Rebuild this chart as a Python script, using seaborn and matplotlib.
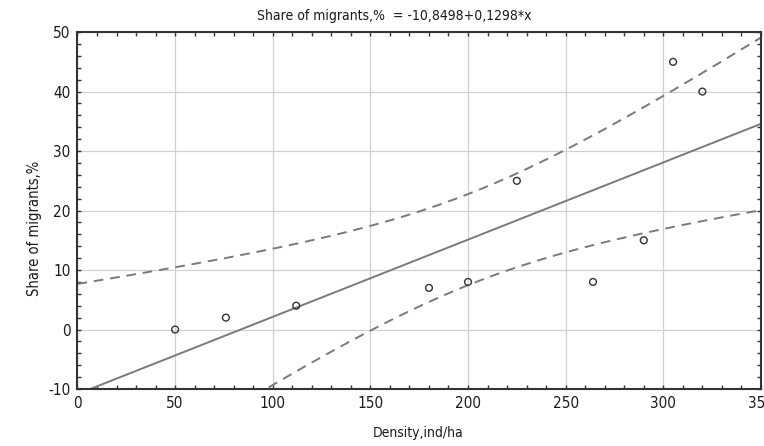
import numpy as np
import pandas as pd
import matplotlib
matplotlib.use("Agg")
import matplotlib.pyplot as plt
from matplotlib import font_manager
from matplotlib.ticker import MultipleLocator
import seaborn as sns

# Observations
density = [50, 76, 112, 180, 200, 225, 264, 290, 305, 320]
share = [0, 2, 4, 7, 8, 25, 8, 15, 45, 40]

# Fitted model stated in the title
intercept = -10.8498
slope = 0.1298

x_ticks = [0, 50, 100, 150, 200, 250, 300, 350]
y_ticks = [-10, 0, 10, 20, 30, 40, 50]

sns.set_style("white")

# Prefer a condensed sans face when one is installed
fonts = font_manager.fontManager.ttflist
names = {f.name for f in fonts}
condensed = [f for f in fonts if f.name == "DejaVu Sans" and "ondensed" in str(f.stretch)]
if "Liberation Sans Narrow" in names:
    family, stretch = "Liberation Sans Narrow", "normal"
elif condensed:
    family, stretch = "DejaVu Sans", "condensed"
else:
    family, stretch = "Liberation Sans", "normal"
plt.rcParams["font.family"] = [family, "DejaVu Sans"]
plt.rcParams["font.stretch"] = stretch

df = pd.DataFrame({"x": density, "y": share})

# Regression line and 95% confidence band of the mean
xs = np.linspace(0, 350, 200)
fit = intercept + slope * xs
n = len(density)
xarr = np.array(density, float)
yarr = np.array(share, float)
resid = yarr - (intercept + slope * xarr)
s = np.sqrt(np.sum(resid ** 2) / (n - 2))
sxx = np.sum((xarr - xarr.mean()) ** 2)
t_crit = 2.306  # t(0.975, df=8)
half = t_crit * s * np.sqrt(1.0 / n + (xs - xarr.mean()) ** 2 / sxx)
band = pd.DataFrame({"x": xs, "fit": fit, "lo": fit - half, "hi": fit + half})

fig = plt.figure(figsize=(7.64, 4.46), dpi=100)
ax = fig.add_axes([0.1014, 0.1278, 0.8946, 0.8002])

ax.grid(True, color="#d0d0d0", linewidth=0.9)
ax.set_axisbelow(True)

sns.lineplot(data=band, x="x", y="fit", ax=ax, color="#7a7a7a", linewidth=1.4)
sns.lineplot(data=band, x="x", y="lo", ax=ax, color="#7a7a7a", linewidth=1.4,
             linestyle=(0, (5, 3.5)))
sns.lineplot(data=band, x="x", y="hi", ax=ax, color="#7a7a7a", linewidth=1.4,
             linestyle=(0, (5, 3.5)))
sns.scatterplot(data=df, x="x", y="y", ax=ax, marker="o", s=24,
                facecolor="none", edgecolor="#333333", linewidth=1.0, zorder=5)

ax.set_xlim(0, 350)
ax.set_ylim(-10, 50)
ax.set_xticks(x_ticks)
ax.set_yticks(y_ticks)
ax.xaxis.set_minor_locator(MultipleLocator(10))
ax.yaxis.set_minor_locator(MultipleLocator(2))
ax.tick_params(which="both", direction="in", top=True, right=True,
               bottom=True, left=True, color="#333333", width=1.0)
ax.tick_params(which="major", length=3, labelsize=11, pad=5, labelcolor="#1a1a1a")
ax.tick_params(which="minor", length=3)
ax.set_xticklabels([str(v) for v in x_ticks])
ax.set_yticklabels([str(v) for v in y_ticks])

for sp in ax.spines.values():
    sp.set_color("#333333")
    sp.set_linewidth(1.5)

ax.set_xlabel("Density,ind/ha", fontsize=10, color="#1a1a1a")
ax.xaxis.set_label_coords(0.499, -0.105)
ax.set_ylabel("Share of migrants,%", fontsize=10.5, color="#1a1a1a")
ax.yaxis.set_label_coords(-0.052, 0.45)
ax.set_title("Share of migrants,%  = -10,8498+0,1298*x", fontsize=10,
             color="#1a1a1a", pad=9, x=0.463)

fig.savefig("out.png", dpi=100)
